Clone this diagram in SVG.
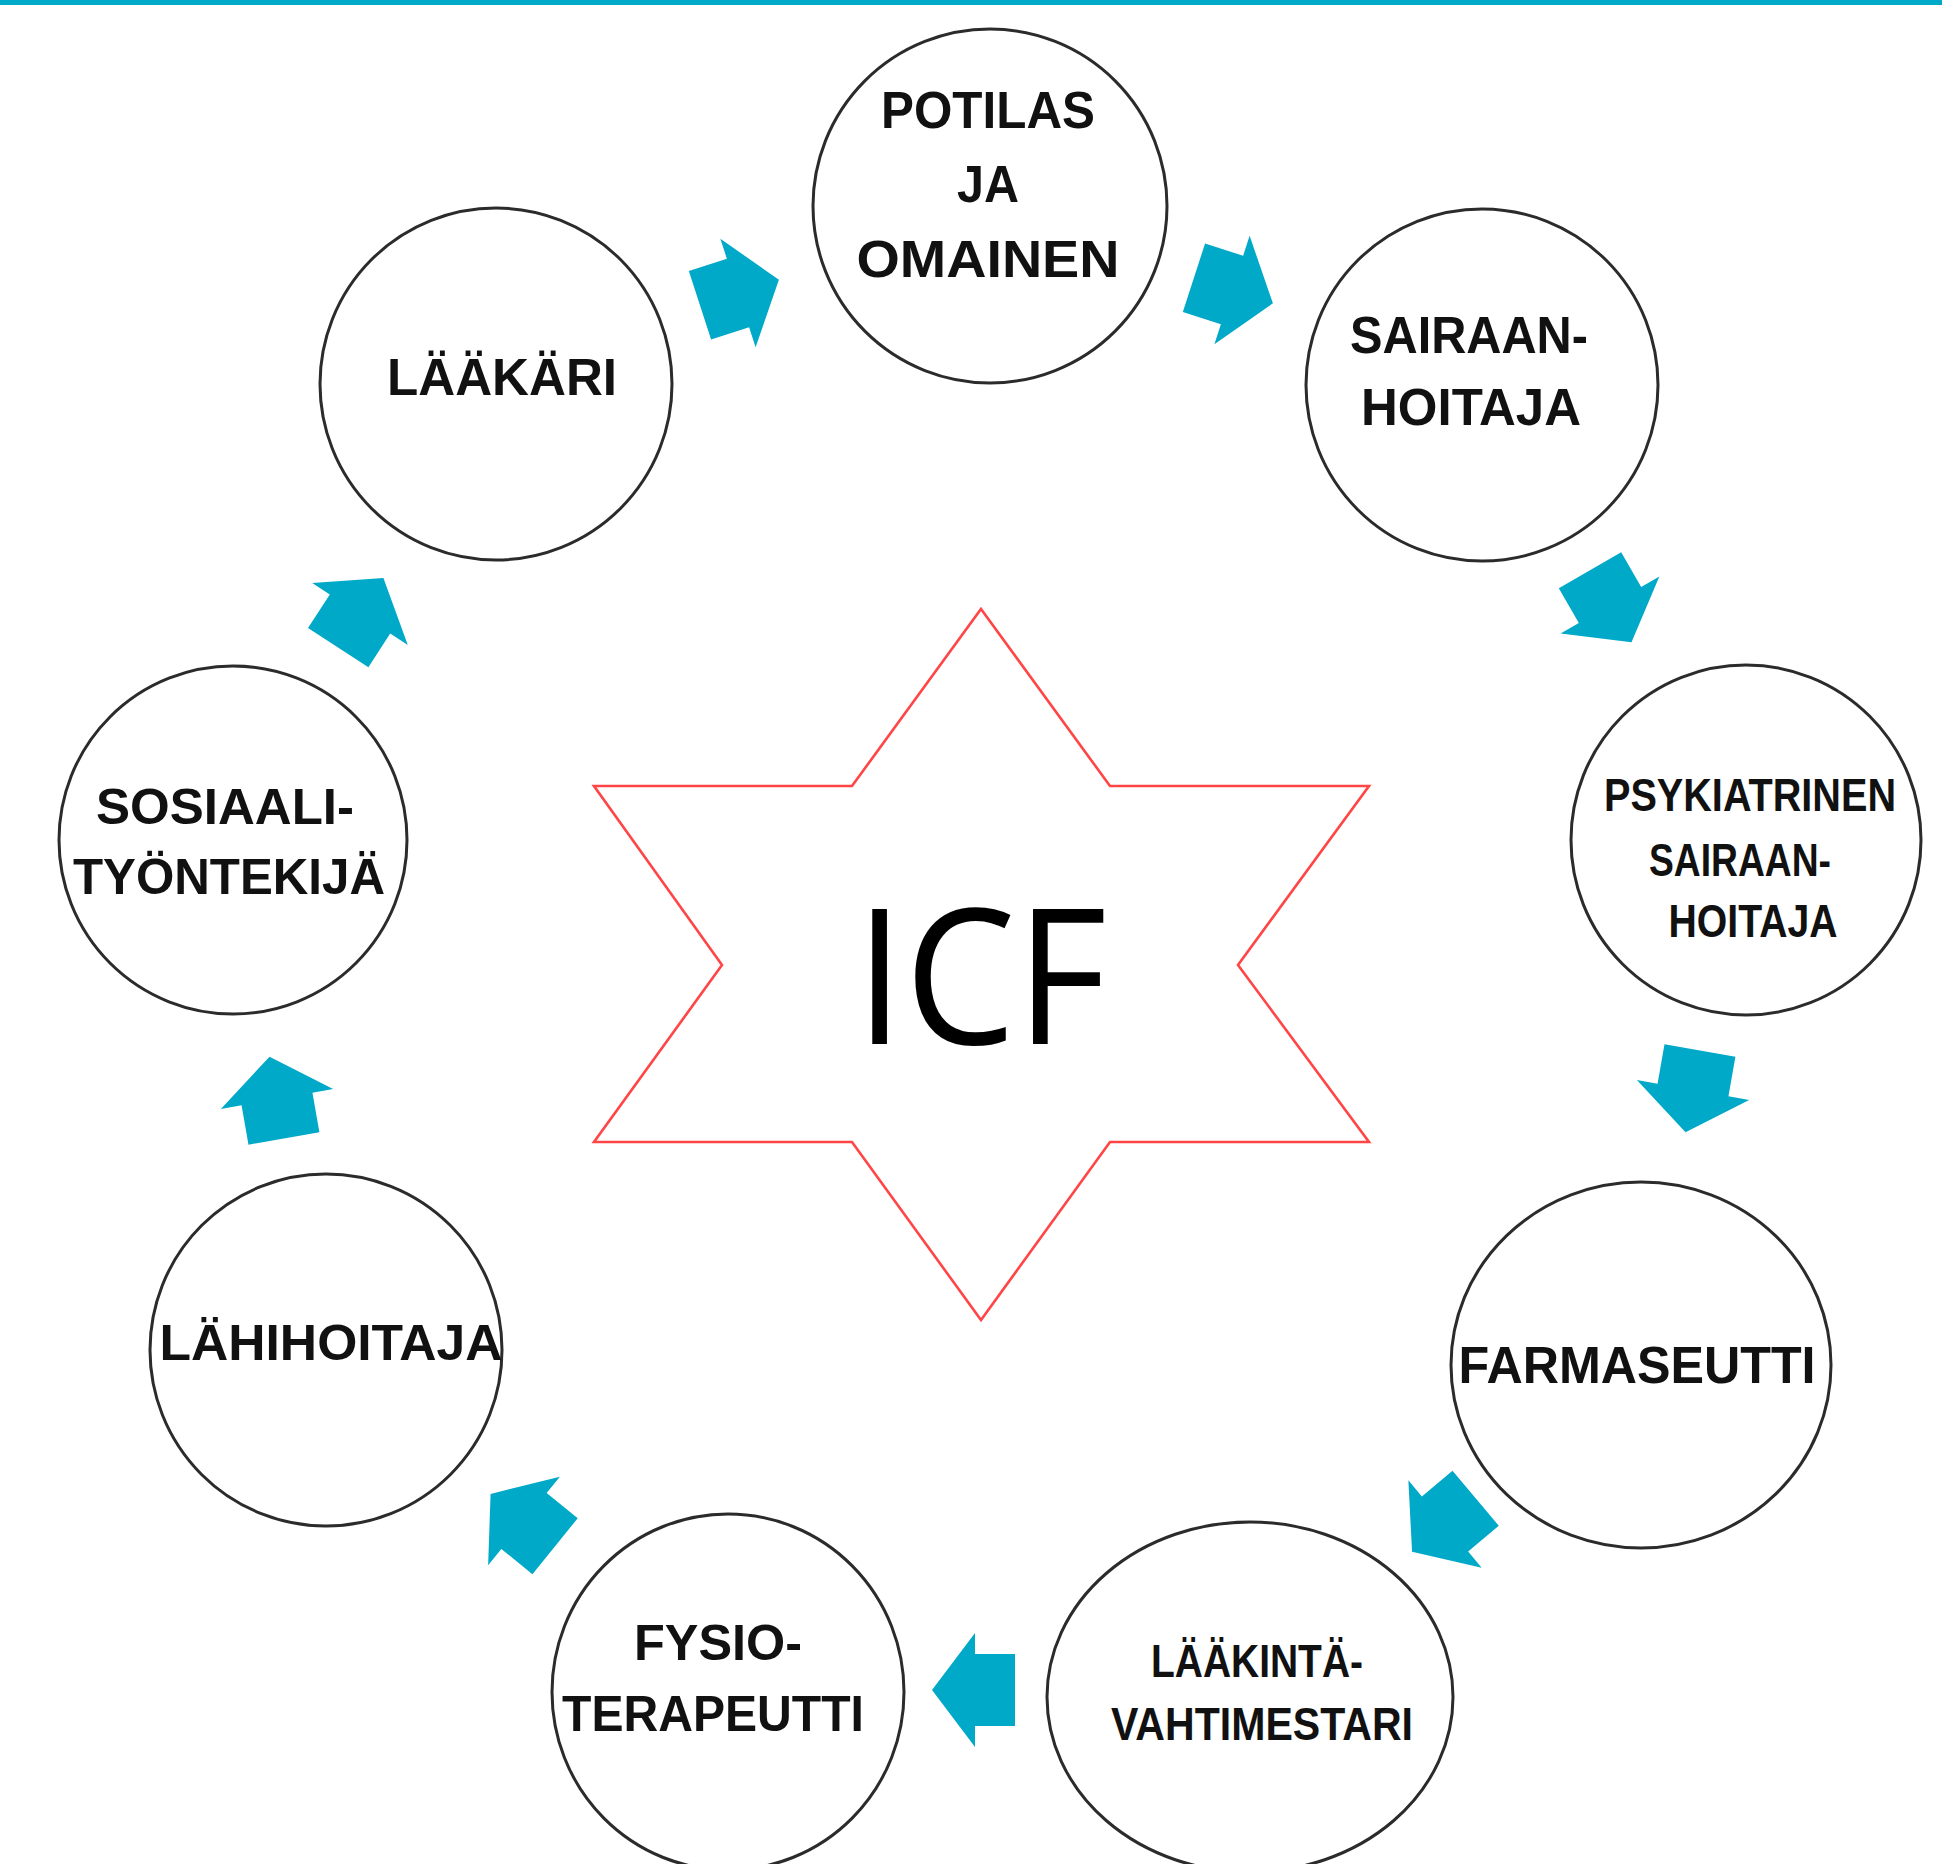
<svg xmlns="http://www.w3.org/2000/svg" xmlns:xlink="http://www.w3.org/1999/xlink" width="1942" height="1864" viewBox="0 0 1942 1864">
<style>
.node{fill:#fff;stroke:#2b2b2b;stroke-width:3}
.lbl{font-family:"Liberation Sans",Arial,sans-serif;font-weight:bold;fill:#111;text-anchor:middle}
.arr{fill:#00A9C8}
</style>
<defs>
<path id="arrow" d="M -40,-36 L 0,-36 L 0,-57 L 43,0 L 0,57 L 0,36 L -40,36 Z"/>
</defs>
<rect x="0" y="0" width="1942" height="1864" fill="#fff"/>
<rect x="0" y="0" width="1942" height="5" fill="#00A9C8"/>
<g id="icf">
<polygon points="981,609 1110,786 1369,786 1238,965 1369,1142 1110,1142 981,1320 852,1142 594,1142 722,965 594,786 852,786" fill="none" stroke="#FF4545" stroke-width="2.6" stroke-linejoin="miter"/>
<text x="981" y="1044" font-family="'Open Sans','Liberation Sans',sans-serif" font-size="188" fill="#000" text-anchor="middle" textLength="252" lengthAdjust="spacingAndGlyphs">ICF</text>
</g>
<g id="connectors" class="arr">
<use xlink:href="#arrow" transform="translate(738,293) rotate(-18)"/>
<use xlink:href="#arrow" transform="translate(1232,290) rotate(18)"/>
<use xlink:href="#arrow" transform="translate(1610,605) rotate(60)"/>
<use xlink:href="#arrow" transform="translate(1693,1090) rotate(100)"/>
<use xlink:href="#arrow" transform="translate(1445,1524) rotate(140)"/>
<use xlink:href="#arrow" transform="translate(975,1690) rotate(180)"/>
<use xlink:href="#arrow" transform="translate(524,1521) rotate(-141)"/>
<use xlink:href="#arrow" transform="translate(277,1099) rotate(-100)"/>
<use xlink:href="#arrow" transform="translate(360,614) rotate(-57)"/>
</g>
<g id="potilas">
<circle class="node" cx="990" cy="206" r="177"/>
<text class="lbl" x="988" y="128" font-size="52" textLength="214" lengthAdjust="spacingAndGlyphs">POTILAS</text>
<text class="lbl" x="988" y="202" font-size="52" textLength="62" lengthAdjust="spacingAndGlyphs">JA</text>
<text class="lbl" x="988" y="277" font-size="52" textLength="263" lengthAdjust="spacingAndGlyphs">OMAINEN</text>
</g>
<g id="sairaanhoitaja">
<circle class="node" cx="1482" cy="385" r="176"/>
<text class="lbl" x="1469" y="353" font-size="52" textLength="238" lengthAdjust="spacingAndGlyphs">SAIRAAN-</text>
<text class="lbl" x="1471" y="425" font-size="52" textLength="220" lengthAdjust="spacingAndGlyphs">HOITAJA</text>
</g>
<g id="psykiatrinen">
<circle class="node" cx="1746" cy="840" r="175"/>
<text class="lbl" x="1750" y="811" font-size="46" textLength="292" lengthAdjust="spacingAndGlyphs">PSYKIATRINEN</text>
<text class="lbl" x="1740" y="876" font-size="46" textLength="182" lengthAdjust="spacingAndGlyphs">SAIRAAN-</text>
<text class="lbl" x="1753" y="937" font-size="46" textLength="169" lengthAdjust="spacingAndGlyphs">HOITAJA</text>
</g>
<g id="farmaseutti">
<ellipse class="node" cx="1641" cy="1365" rx="190" ry="183"/>
<text class="lbl" x="1637" y="1383" font-size="52" textLength="357" lengthAdjust="spacingAndGlyphs">FARMASEUTTI</text>
</g>
<g id="laakintavahtimestari">
<ellipse class="node" cx="1250" cy="1697" rx="203" ry="175"/>
<text class="lbl" x="1257" y="1677" font-size="46" textLength="212" lengthAdjust="spacingAndGlyphs">LÄÄKINTÄ-</text>
<text class="lbl" x="1262" y="1740" font-size="46" textLength="302" lengthAdjust="spacingAndGlyphs">VAHTIMESTARI</text>
</g>
<g id="fysioterapeutti">
<ellipse class="node" cx="728" cy="1692" rx="176" ry="178"/>
<text class="lbl" x="718" y="1660" font-size="50" textLength="168" lengthAdjust="spacingAndGlyphs">FYSIO-</text>
<text class="lbl" x="713" y="1731" font-size="50" textLength="302" lengthAdjust="spacingAndGlyphs">TERAPEUTTI</text>
</g>
<g id="lahihoitaja">
<circle class="node" cx="326" cy="1350" r="176"/>
<text class="lbl" x="331" y="1360" font-size="50" textLength="343" lengthAdjust="spacingAndGlyphs">LÄHIHOITAJA</text>
</g>
<g id="sosiaalityontekija">
<circle class="node" cx="233" cy="840" r="174"/>
<text class="lbl" x="225" y="824" font-size="50" textLength="258" lengthAdjust="spacingAndGlyphs">SOSIAALI-</text>
<text class="lbl" x="229" y="894" font-size="50" textLength="312" lengthAdjust="spacingAndGlyphs">TYÖNTEKIJÄ</text>
</g>
<g id="laakari">
<circle class="node" cx="496" cy="384" r="176"/>
<text class="lbl" x="502" y="395" font-size="52" textLength="230" lengthAdjust="spacingAndGlyphs">LÄÄKÄRI</text>
</g>
</svg>
